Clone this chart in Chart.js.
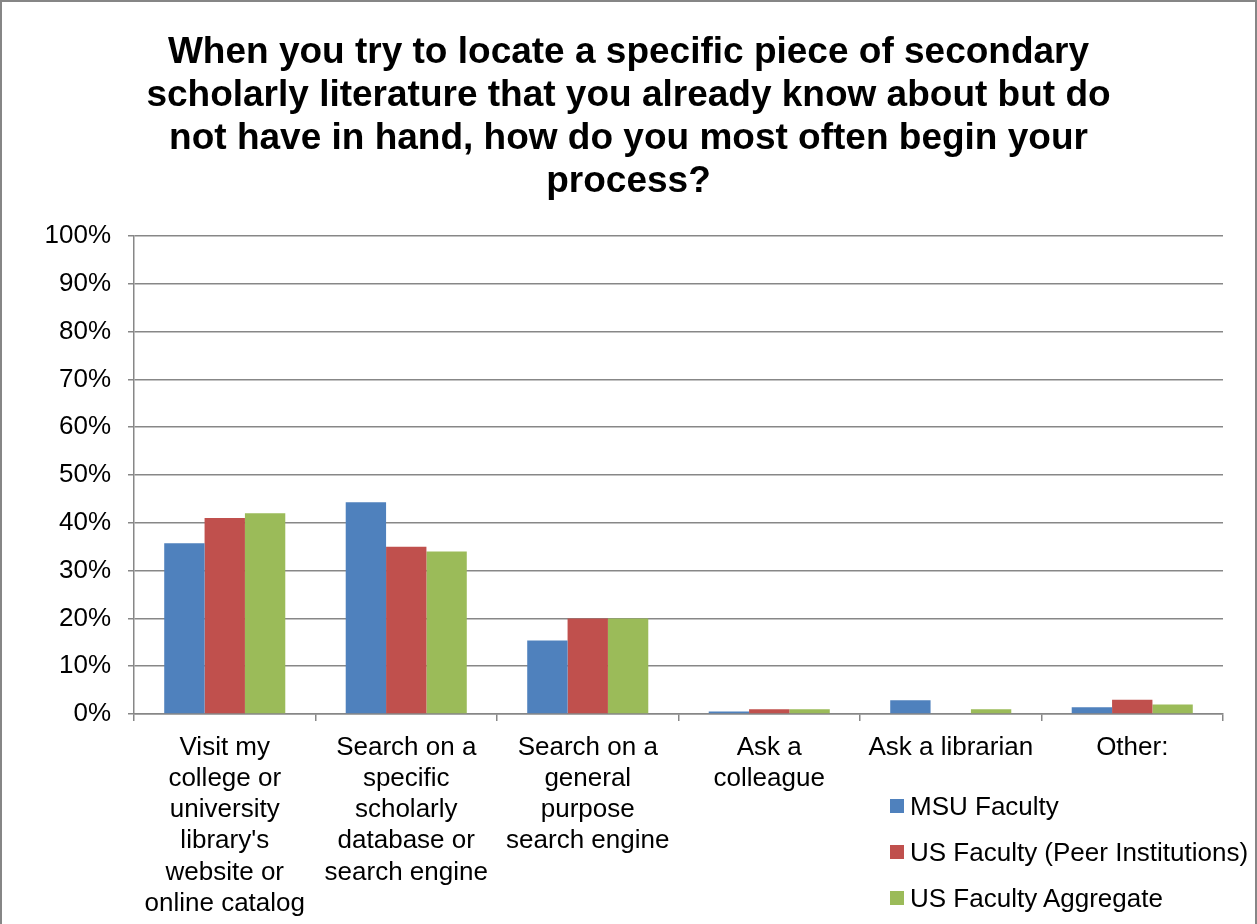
<!DOCTYPE html>
<html>
<head>
<meta charset="utf-8">
<script src="https://cdn.jsdelivr.net/npm/chart.js@4/dist/chart.umd.min.js"></script>
<style>
  html, body { margin: 0; padding: 0; background: #fff; }
  #wrap { position: relative; width: 1257px; height: 924px; overflow: hidden; }
  #c { position: absolute; left: 0; top: 0; }
  #frame { position: absolute; left: 0; top: 0; width: 1253px; height: 940px;
           border: 2px solid #868686; pointer-events: none; }
  #legend { position: absolute; left: 890px; top: 783px; font-family: "Liberation Sans", Arial, sans-serif;
            font-size: 26px; color: #000; }
  #legend .item { height: 46px; display: flex; align-items: center; white-space: nowrap; }
  #legend .box { width: 14px; height: 14px; margin-right: 6px; flex: none; }
</style>
</head>
<body>
<div id="wrap">
  <canvas id="c" width="1257" height="924"></canvas>
  <div id="legend"></div>
  <div id="frame"></div>
</div>
<script>
const titleLines = [
  "When you try to locate a specific piece of secondary",
  "scholarly literature that you already know about but do",
  "not have in hand, how do you most often begin your",
  "process?"
];
const categories = [
  ["Visit my", "college or", "university", "library's", "website or", "online catalog"],
  ["Search on a", "specific", "scholarly", "database or", "search engine"],
  ["Search on a", "general", "purpose", "search engine"],
  ["Ask a", "colleague"],
  ["Ask a librarian"],
  ["Other:"]
];
const seriesNames = ["MSU Faculty", "US Faculty (Peer Institutions)", "US Faculty Aggregate"];
const msuFaculty = [35.7, 44.3, 15.4, 0.5, 2.9, 1.4];
const usPeer = [41, 35, 20, 1, 0, 3];
const usAggregate = [42, 34, 20, 1, 1, 2];
const seriesColors = ["#4F81BD", "#C0504D", "#9BBB59"];
const yTicks = [0, 10, 20, 30, 40, 50, 60, 70, 80, 90, 100];

const FONT = "'Liberation Sans', Arial, sans-serif";
const GRID = "#878787";
const values = [msuFaculty, usPeer, usAggregate];

const chart = new Chart(document.getElementById('c'), {
  type: 'bar',
  data: {
    labels: categories,
    datasets: values.map((v, i) => ({
      label: seriesNames[i],
      data: v,
      backgroundColor: seriesColors[i],
      borderWidth: 0,
      yAxisID: 'y',
      categoryPercentage: 0.667,
      barPercentage: 1.0
    }))
  },
  options: {
    responsive: false,
    animation: false,
    devicePixelRatio: 1,
    layout: { padding: 0 },
    plugins: {
      legend: { display: false },
      tooltip: { enabled: false },
      title: {
        display: true,
        text: titleLines,
        color: '#000',
        font: { family: FONT, size: 37, weight: 'bold', lineHeight: 1.16 },
        padding: { top: 31.5, bottom: 32.8 }
      }
    },
    scales: {
      x: {
        grid: { display: true, drawOnChartArea: false, drawTicks: true, tickLength: 7, color: GRID, lineWidth: 1.5, offset: true },
        border: { display: true, color: GRID, width: 1.5 },
        ticks: { color: '#000', font: { family: FONT, size: 26, lineHeight: 1.2 }, padding: 11, maxRotation: 0, autoSkip: false },
        afterFit(s) { s.height = 210; }
      },
      y: {
        position: 'left',
        min: 0, max: 100,
        afterBuildTicks(s) { s.ticks = yTicks.map(v => ({ value: v })); },
        grid: { color: GRID, lineWidth: 1.5, drawTicks: true, tickLength: 6 },
        border: { display: true, color: GRID, width: 1.5 },
        ticks: { color: '#000', font: { family: FONT, size: 26 }, padding: 17, callback: v => v + '%' },
        afterFit(s) { s.width = 134; }
      },
      yRight: {
        position: 'right',
        display: true,
        grid: { display: false },
        border: { display: false },
        ticks: { display: false },
        afterFit(s) { s.width = 34; }
      }
    }
  }
});

const legend = document.getElementById('legend');
chart.data.datasets.forEach(ds => {
  const item = document.createElement('div');
  item.className = 'item';
  const box = document.createElement('span');
  box.className = 'box';
  box.style.background = ds.backgroundColor;
  const txt = document.createElement('span');
  txt.textContent = ds.label;
  item.appendChild(box);
  item.appendChild(txt);
  legend.appendChild(item);
});
</script>
</body>
</html>
